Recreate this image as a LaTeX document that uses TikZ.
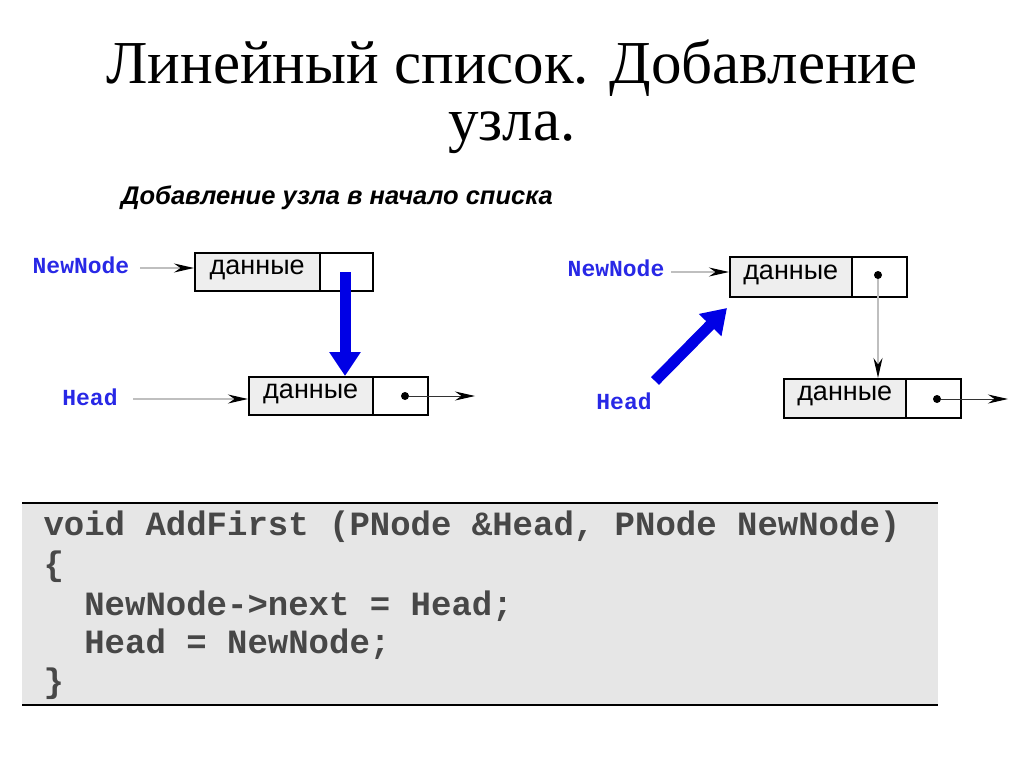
\documentclass[tikz,border=0pt]{standalone}
\usepackage{fontspec}
\setmainfont{Liberation Serif}
\newfontfamily\sansf{Liberation Sans}
\newfontfamily\monof{Liberation Mono}
\usetikzlibrary{arrows.meta}
\definecolor{cellgray}{RGB}{238,238,238}
\definecolor{codegray}{RGB}{230,230,230}
\definecolor{lblue}{RGB}{40,40,230}
\tikzset{
 datacell/.style={draw,fill=cellgray,line width=1.5pt,anchor=north west,inner sep=0pt},
 ptrcell/.style={draw,fill=white,line width=1.5pt,anchor=north west,inner sep=0pt},
 lbl/.style={text=lblue,font=\monof\bfseries\fontsize{23}{23}\selectfont},
 dtext/.style={font=\sansf\fontsize{27}{27}\selectfont},
 thin arrow/.style={draw=gray!50,line width=1.5pt,-{Stealth[length=20pt,width=9pt,black]}},
 blk arrow/.style={draw=black!80,line width=1pt,-{Stealth[length=20pt,width=9pt,black]}},
 big arrow/.style={draw=blue!90!black,line width=11pt,-{Triangle[length=24pt,width=30pt]}},
 dotm/.style={circle,fill=black,inner sep=0pt,minimum size=8pt},
 code/.style={font=\monof\bfseries\fontsize{34}{34}\selectfont,text=black!72,anchor=west}
}
\begin{document}
\begin{tikzpicture}[x=1pt,y=-1pt]
\useasboundingbox (0,0) rectangle (1024,767);
\node at (512,68) {\fontsize{61}{61}\selectfont Линейный список. Добавление};
\node at (512,133) {\fontsize{61}{61}\selectfont узла.};
\node at (337,198) {\sansf\bfseries\itshape\fontsize{25.5}{25.5}\selectfont Добавление узла в начало списка};
% left
\node[datacell,minimum width=125pt,minimum height=38pt] (ld1) at (194,252) {};
\node[dtext] at ([yshift=2pt]ld1.center) {данные};
\node[ptrcell,minimum width=53pt,minimum height=38pt] (lp1) at (319,252) {};
\node[datacell,minimum width=124pt,minimum height=38pt] (ld2) at (248,376) {};
\node[dtext] at ([yshift=2pt]ld2.center) {данные};
\node[ptrcell,minimum width=55pt,minimum height=38pt] (lp2) at (372,376) {};
\node[lbl] (lnn) at (81,265) {NewNode};
\node[lbl] (lh) at (90,397) {Head};
\coordinate (lnns) at (140,268);
\coordinate (lhs) at (133,399);
\draw[thin arrow] (lnns) -- (ld1.west |- lnns);
\draw[thin arrow] (lhs) -- (ld2.west |- lhs);
\coordinate (lbs) at (345,272);
\draw[big arrow] (lbs) -- (lp2.north west -| lbs);
\node[dotm] (ldot) at (405,396) {};
\coordinate (lend) at (475,396);
\draw[blk arrow] (ldot) -- (lend);
% right
\node[datacell,minimum width=122pt,minimum height=40pt] (rd1) at (729,256) {};
\node[dtext] at ([yshift=2pt]rd1.center) {данные};
\node[ptrcell,minimum width=55pt,minimum height=40pt] (rp1) at (851,256) {};
\node[datacell,minimum width=122pt,minimum height=39pt] (rd2) at (783,378) {};
\node[dtext] at ([yshift=2pt]rd2.center) {данные};
\node[ptrcell,minimum width=55pt,minimum height=39pt] (rp2) at (905,378) {};
\node[lbl] (rnn) at (616,268) {NewNode};
\node[lbl] (rh) at (624,401) {Head};
\coordinate (rnns) at (671,272);
\draw[thin arrow] (rnns) -- (rd1.west |- rnns);
\coordinate (rbs) at (655,381);
\coordinate (rbe) at (727,308);
\draw[big arrow] (rbs) -- (rbe);
\node[dotm] (rdot1) at (878,275) {};
\draw[thin arrow] (rdot1) -- (rd2.north -| rdot1);
\node[dotm] (rdot2) at (937,399) {};
\coordinate (rend) at (1008,399);
\draw[blk arrow] (rdot2) -- (rend);
% code
\fill[codegray] (22,503) rectangle (938,705);
\draw[line width=2pt] (22,503) -- (938,503);
\draw[line width=2pt] (22,705) -- (938,705);
\node[code] (c1) at (40,527) {void AddFirst (PNode \&Head, PNode NewNode)};
\node[code] (c2) at (40,567) {\{};
\node[code] (c3) at (40,606) {\ \ NewNode->next = Head;};
\node[code] (c4) at (40,644) {\ \ Head = NewNode;};
\node[code] (c5) at (40,684) {\}};
\end{tikzpicture}
\end{document}
